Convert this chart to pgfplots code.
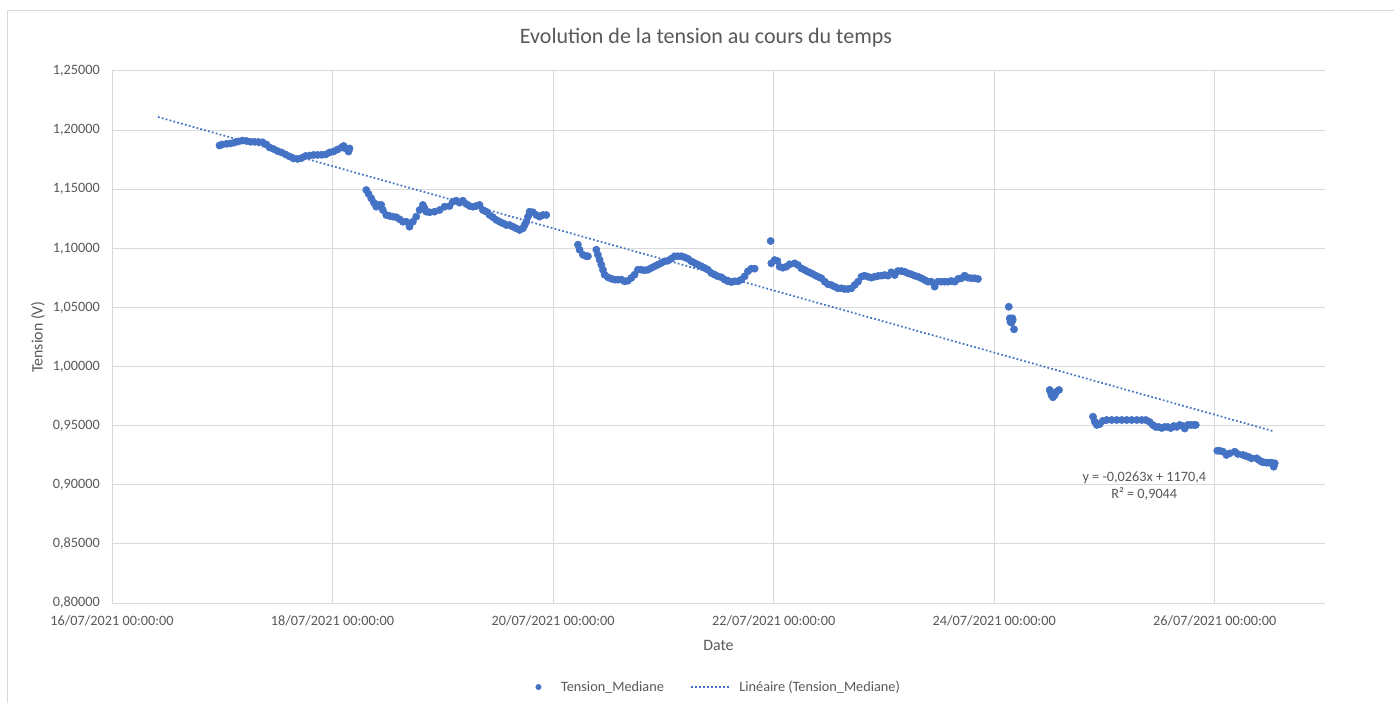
\documentclass[border=0pt]{standalone}
\usepackage{fontspec}
\setmainfont{Carlito}
\usepackage{pgfplots}
\pgfplotsset{compat=1.18}
\definecolor{excelblue}{HTML}{4472C4}
\definecolor{gridgray}{HTML}{D9D9D9}
\definecolor{textgray}{HTML}{595959}
\pgfplotsset{
  trendleg/.style={legend image code/.code={\draw[##1] (0pt,0pt) -- (28pt,0pt); \path[draw=none,fill=none] (28pt,0pt) -- (34pt,0pt);}},
  markleg/.style={legend image code/.code={\path[draw=none,fill=none] (-3pt,0pt) -- (15pt,0pt); \draw[##1, mark size=2pt] plot coordinates {(0pt,0pt)};}}
}
\begin{document}
\begin{tikzpicture}[x=0.75pt,y=0.75pt]
\path[use as bounding box] (0,0) rectangle (1394,703);
\fill[white] (0,0) rectangle (1394,703);
\draw[gridgray, line width=0.75pt] (7,0) -- (7,692) -- (1394,692);
\node[text=textgray, font=\fontsize{16.5}{20}\selectfont] at (706,665) {Evolution de la tension au cours du temps};
\begin{axis}[
  at={(84pt,75pt)}, anchor=south west,
  scale only axis, width=909.75pt, height=399pt,
  xmin=0, xmax=11, ymin=0.80, ymax=1.25,
  axis x line*=bottom, axis y line*=left,
  axis line style={gridgray, line width=0.75pt, -},
  major tick length=0pt,
  grid=major, major grid style={gridgray, line width=0.75pt},
  xtick={0,2,4,6,8,10},
  xticklabels={16/07/2021 00:00:00,18/07/2021 00:00:00,20/07/2021 00:00:00,22/07/2021 00:00:00,24/07/2021 00:00:00,26/07/2021 00:00:00},
  ytick={0.80,0.85,0.90,0.95,1.00,1.05,1.10,1.15,1.20,1.25},
  yticklabels={{0,80000},{0,85000},{0,90000},{0,95000},{1,00000},{1,05000},{1,10000},{1,15000},{1,20000},{1,25000}},
  ticklabel style={text=textgray, font=\fontsize{10.7}{12.8}\selectfont},
  xticklabel style={anchor=center, yshift=-13.5pt},
  yticklabel style={anchor=east, inner sep=0pt, xshift=-9pt},
  xlabel={Date}, ylabel={Tension (V)},
  label style={text=textgray, font=\fontsize{11.9}{14}\selectfont},
  xlabel style={at={(axis description cs:0.5,-0.079)}, anchor=center},
  ylabel style={at={(axis description cs:-0.061,0.5)}, anchor=center},
  legend style={at={(0.5,-0.158)}, anchor=center, draw=none, fill=none,
    legend columns=2, text=textgray, font=\fontsize{10.7}{12.8}\selectfont,
    /tikz/every even column/.append style={column sep=18pt}},
  clip=false,
]
\addplot[only marks, mark=*, mark size=2.7pt, mark options={fill=excelblue, draw=excelblue}, color=excelblue, markleg] table {
x y
0.975 1.1870
0.998 1.1878
1.039 1.1884
1.075 1.1887
1.111 1.1895
1.147 1.1904
1.184 1.1912
1.220 1.1908
1.256 1.1901
1.293 1.1901
1.329 1.1899
1.365 1.1897
1.401 1.1878
1.429 1.1853
1.465 1.1840
1.501 1.1823
1.537 1.1811
1.574 1.1794
1.610 1.1777
1.646 1.1760
1.683 1.1756
1.719 1.1764
1.755 1.1781
1.791 1.1785
1.828 1.1790
1.864 1.1790
1.900 1.1791
1.937 1.1794
1.973 1.1811
2.009 1.1819
2.045 1.1836
2.082 1.1853
2.100 1.1866
2.118 1.1845
2.145 1.1819
2.154 1.1845
2.306 1.1493
2.327 1.1460
2.351 1.1423
2.375 1.1386
2.396 1.1352
2.417 1.1367
2.442 1.1367
2.456 1.1324
2.487 1.1282
2.517 1.1274
2.547 1.1268
2.578 1.1263
2.608 1.1246
2.638 1.1225
2.669 1.1225
2.698 1.1183
2.728 1.1225
2.759 1.1268
2.789 1.1324
2.819 1.1367
2.834 1.1339
2.850 1.1310
2.880 1.1305
2.925 1.1310
2.971 1.1324
3.016 1.1352
3.061 1.1358
3.091 1.1395
3.122 1.1403
3.152 1.1386
3.182 1.1403
3.213 1.1375
3.243 1.1358
3.273 1.1352
3.303 1.1358
3.333 1.1367
3.363 1.1324
3.394 1.1310
3.424 1.1282
3.454 1.1263
3.485 1.1240
3.515 1.1225
3.545 1.1212
3.576 1.1197
3.605 1.1197
3.635 1.1183
3.666 1.1169
3.696 1.1155
3.726 1.1169
3.742 1.1197
3.757 1.1225
3.772 1.1268
3.787 1.1310
3.817 1.1305
3.848 1.1282
3.878 1.1268
3.908 1.1282
3.938 1.1282
4.225 1.1031
4.240 1.0988
4.270 1.0946
4.301 1.0933
4.316 1.0933
4.392 1.0988
4.406 1.0946
4.422 1.0904
4.437 1.0862
4.452 1.0819
4.467 1.0777
4.497 1.0755
4.528 1.0743
4.558 1.0735
4.588 1.0735
4.619 1.0735
4.649 1.0721
4.678 1.0726
4.709 1.0749
4.739 1.0777
4.769 1.0819
4.800 1.0819
4.830 1.0814
4.860 1.0819
4.891 1.0834
4.921 1.0848
4.951 1.0862
4.981 1.0876
5.011 1.0890
5.041 1.0895
5.072 1.0912
5.102 1.0933
5.132 1.0933
5.163 1.0933
5.193 1.0924
5.223 1.0912
5.254 1.0890
5.283 1.0876
5.313 1.0862
5.344 1.0848
5.374 1.0834
5.404 1.0819
5.435 1.0791
5.465 1.0777
5.495 1.0763
5.526 1.0755
5.556 1.0735
5.586 1.0721
5.616 1.0715
5.646 1.0721
5.676 1.0721
5.707 1.0735
5.737 1.0763
5.767 1.0806
5.798 1.0828
5.828 1.0828
5.973 1.1062
5.979 1.0873
6.009 1.0901
6.034 1.0893
6.054 1.0845
6.084 1.0836
6.115 1.0845
6.145 1.0865
6.190 1.0873
6.220 1.0859
6.251 1.0831
6.281 1.0817
6.311 1.0802
6.342 1.0789
6.372 1.0774
6.402 1.0760
6.433 1.0747
6.463 1.0718
6.493 1.0696
6.523 1.0690
6.553 1.0676
6.583 1.0662
6.614 1.0662
6.644 1.0656
6.674 1.0656
6.705 1.0662
6.735 1.0690
6.765 1.0718
6.796 1.0760
6.825 1.0769
6.855 1.0760
6.886 1.0752
6.916 1.0760
6.946 1.0766
6.977 1.0769
7.007 1.0774
7.037 1.0769
7.067 1.0797
7.098 1.0774
7.127 1.0808
7.158 1.0808
7.188 1.0802
7.218 1.0789
7.249 1.0780
7.279 1.0769
7.309 1.0760
7.340 1.0747
7.370 1.0732
7.400 1.0718
7.430 1.0718
7.460 1.0676
7.490 1.0718
7.521 1.0718
7.551 1.0718
7.581 1.0718
7.612 1.0724
7.642 1.0718
7.672 1.0741
7.703 1.0747
7.732 1.0769
7.762 1.0752
7.793 1.0747
7.823 1.0747
7.853 1.0741
8.132 1.0506
8.141 1.0408
8.147 1.0379
8.156 1.0371
8.165 1.0408
8.168 1.0394
8.180 1.0315
8.503 0.9802
8.512 0.9785
8.519 0.9759
8.533 0.9740
8.549 0.9759
8.564 0.9787
8.588 0.9802
8.896 0.9576
8.912 0.9534
8.930 0.9506
8.957 0.9514
8.984 0.9540
9.020 0.9548
9.066 0.9548
9.111 0.9548
9.157 0.9548
9.202 0.9548
9.247 0.9548
9.293 0.9548
9.338 0.9548
9.374 0.9548
9.410 0.9531
9.438 0.9506
9.465 0.9489
9.492 0.9489
9.519 0.9480
9.546 0.9489
9.574 0.9489
9.601 0.9480
9.628 0.9497
9.655 0.9489
9.682 0.9506
9.710 0.9497
9.728 0.9476
9.755 0.9506
9.782 0.9506
9.810 0.9506
9.828 0.9506
10.023 0.9288
10.045 0.9288
10.075 0.9280
10.106 0.9252
10.136 0.9266
10.181 0.9280
10.211 0.9260
10.257 0.9252
10.277 0.9245
10.302 0.9238
10.333 0.9224
10.380 0.9224
10.399 0.9210
10.424 0.9195
10.445 0.9190
10.469 0.9187
10.490 0.9187
10.515 0.9187
10.535 0.9153
10.544 0.9182
};
\addlegendentry{Tension\_Mediane}
\addplot[excelblue, line width=1.3pt, dash pattern=on 1.3pt off 1.7pt, trendleg] coordinates {(0.417,1.2111) (10.524,0.9455)};
\addlegendentry{Linéaire (Tension\_Mediane)}
\node[text=textgray, font=\fontsize{10.7}{12.8}\selectfont] at (axis cs:9.361,0.9057) {y = -0,0263x + 1170,4};
\node[text=textgray, font=\fontsize{10.7}{12.8}\selectfont] at (axis cs:9.361,0.8922) {R² = 0,9044};
\end{axis}
\end{tikzpicture}
\end{document}
